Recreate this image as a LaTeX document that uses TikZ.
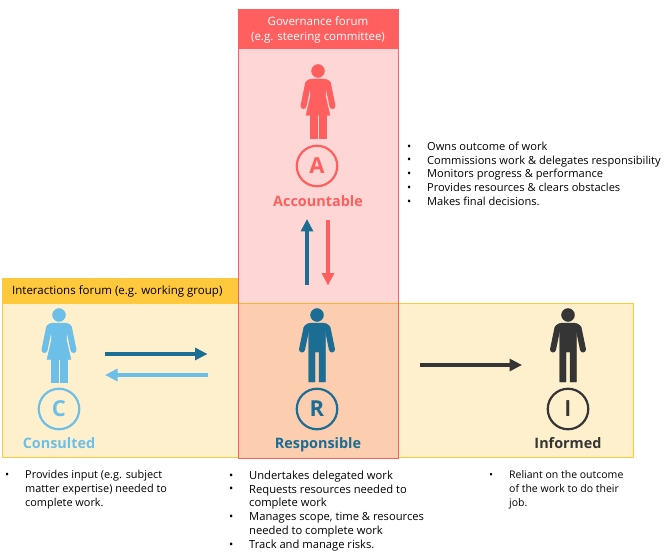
\documentclass[tikz,border=0pt]{standalone}
\usepackage{fontspec}
\setmainfont{Open Sans}
\newfontfamily\plainI{Lato}
\usetikzlibrary{arrows.meta}
\definecolor{cred}{HTML}{FF5F5F}
\definecolor{cpink}{HTML}{FFD6D6}
\definecolor{cyel}{HTML}{FFC83D}
\definecolor{ccream}{HTML}{FEF0CD}
\definecolor{corange}{HTML}{FDCDB0}
\definecolor{cnavy}{HTML}{1B6D94}
\definecolor{csky}{HTML}{6CBFE8}
\definecolor{cdark}{HTML}{353535}
\tikzset{
  x=1pt,y=-1pt,
  man/.pic={
    \fill[pic actions] (0,0) circle (6.5);
    \fill[pic actions] (-8.3,67) -- (-8.3,17) .. controls (-8.3,17) and (-13,14) .. (-13,13)
      .. controls (-12,9) and (-8,8) .. (-5,8) -- (5,8) .. controls (8,8) and (12,9) .. (13,13)
      -- (8.3,17) -- (8.3,67) -- (2,67) -- (2,37) -- (-2,37) -- (-2,67) -- cycle;
    \draw[pic actions,line width=6pt,line cap=round] (-10.5,13) -- (-15,34.5);
    \draw[pic actions,line width=6pt,line cap=round] (10.5,13) -- (15,34.5);
  },
  woman/.pic={
    \fill[pic actions] (0,0) circle (6.5);
    \fill[pic actions] (-12,44.5) -- (-7.5,25) -- (-8,17) -- (-13,13)
      .. controls (-12,9) and (-8,8) .. (-5,8) -- (5,8) .. controls (8,8) and (12,9) .. (13,13)
      -- (8,17) -- (7.5,25) -- (12,44.5) -- cycle;
    \fill[pic actions] (-8,44) rectangle (-1.3,67);
    \fill[pic actions] (1.3,44) rectangle (8,67);
    \draw[pic actions,line width=6pt,line cap=round] (-10,13) -- (-14.5,35);
    \draw[pic actions,line width=6pt,line cap=round] (10,13) -- (14.5,35);
  },
  rolecircle/.style={draw=#1,line width=2.2pt,circle,minimum size=40.5pt,inner sep=0pt,text=#1,
    font=\fontsize{22}{24}\selectfont\bfseries},
  rolename/.style={text=#1,font=\fontsize{14.4}{16}\selectfont\bfseries,inner sep=0pt,anchor=base},
  band/.style={inner sep=0pt,font=\fontsize{11.5}{14.2}\selectfont},
  bullets/.style={inner sep=0pt,anchor=north west,font=\fontsize{#1}{13.8}\selectfont},
  linkarrow/.style={line width=4pt,draw=#1,-{Triangle[length=12.5pt,width=12pt,fill=#1]}},
}
\newcommand{\bul}{\raisebox{0.3pt}{•}}
\begin{document}
\begin{tikzpicture}
\useasboundingbox (0,0) rectangle (666,553);
% backgrounds
\fill[cyel] (2,278) rectangle (238,303);
\draw[draw=cyel,fill=ccream,line width=0.9pt] (2,303) rectangle (633,457.5);
\fill[cpink] (238,49) rectangle (398,303);
\fill[corange] (238,303) rectangle (398,458);
\draw[cyel!70!orange,line width=0.9pt] (238,303) -- (398,303);
\fill[cred] (238,9) rectangle (398,49);
\draw[cred,line width=0.9pt] (238,9) rectangle (398,458);
% headers
\node[band,text=white,align=center] (gov) at (318,30) {Governance forum\\(e.g. steering committee)};
\node[band,anchor=west] (inter) at (12,291) {Interactions forum (e.g. working group)};
% people
\pic[fill=cred,draw=cred] at (318,71) {woman};
\pic[fill=csky,draw=csky] at (59,315) {woman};
\pic[fill=cnavy,draw=cnavy] at (317,315) {man};
\pic[fill=cdark,draw=cdark] at (568,315) {man};
% circles
\node[rolecircle=cred] (A) at (317,166) {A};
\node[rolecircle=cnavy] (R) at (317,409) {R};
\node[rolecircle=csky] (C) at (59,409) {C};
\node[rolecircle=cdark] (I) at (568,409) {\plainI I};
\node[rolename=cred] (an) at (318,207) {Accountable};
\node[rolename=cnavy] (rn) at (318,448) {Responsible};
\node[rolename=csky] (cn) at (59,448) {Consulted};
\node[rolename=cdark] (in) at (568,448) {Informed};
% arrows
\coordinate (u1) at (307,285); \coordinate (u2) at (307,219);
\coordinate (d1) at (328,220); \coordinate (d2) at (328,285.5);
\coordinate (r1) at (105,354); \coordinate (r2) at (207.5,354);
\coordinate (l1) at (207.5,375); \coordinate (l2) at (105,375);
\coordinate (i1) at (420,365); \coordinate (i2) at (522,365);
\draw[linkarrow=cnavy] (u1) -- (u2);
\draw[linkarrow=cred] (d1) -- (d2);
\draw[linkarrow=cnavy] (r1) -- (r2);
\draw[linkarrow=csky] (l1) -- (l2);
\draw[linkarrow=cdark] (i1) -- (i2);
% lists
\node[bullets=11.1] (la) at (407,140.5) {\begin{tabular}{@{}p{20pt}@{}l@{}}
\bul&Owns outcome of work\\
\bul&Commissions work \& delegates responsibility\\
\bul&Monitors progress \& performance\\
\bul&Provides resources \& clears obstacles\\
\bul&Makes final decisions.
\end{tabular}};
\node[bullets=10.9] (lc) at (5,469) {\begin{tabular}{@{}p{20pt}@{}l@{}}
\bul&Provides input (e.g. subject\\
&matter expertise) needed to\\
&complete work.
\end{tabular}};
\node[bullets=11.2] (lr) at (229,469.5) {\begin{tabular}{@{}p{20pt}@{}l@{}}
\bul&Undertakes delegated work\\
\bul&Requests resources needed to\\
&complete work\\
\bul&Manages scope, time \& resources\\
&needed to complete work\\
\bul&Track and manage risks.
\end{tabular}};
\node[bullets=10.5] (li) at (489,469) {\begin{tabular}{@{}p{20pt}@{}l@{}}
\bul&Reliant on the outcome\\
&of the work to do their\\
&job.
\end{tabular}};
\end{tikzpicture}
\end{document}
